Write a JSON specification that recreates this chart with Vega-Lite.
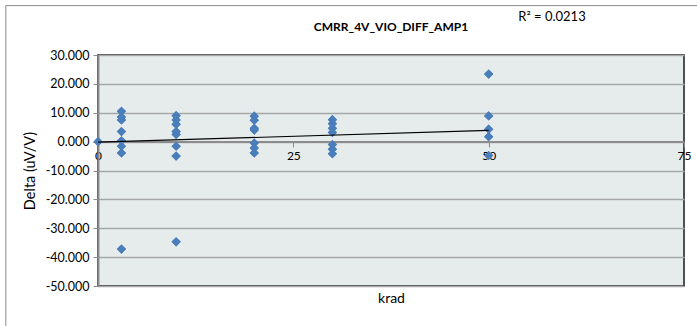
{
  "$schema": "https://vega.github.io/schema/vega-lite/v6.json",
  "width": 586,
  "height": 231,
  "autosize": "none",
  "padding": {"left": 98, "top": 55, "right": 13, "bottom": 40},
  "background": "white",
  "config": {
    "font": "Lato",
    "view": {"fill": "#E6ECEC", "stroke": "#1a1a1a", "strokeWidth": 1.5},
    "axis": {"labelOverlap": false, "labelFlush": false}
  },
  "title": {
    "text": "CMRR_4V_VIO_DIFF_AMP1",
    "font": "Lato",
    "fontSize": 12,
    "fontWeight": "bold",
    "color": "#000000",
    "offset": -29,
    "anchor": "middle"
  },
  "datasets": {
    "points": [
      {"krad": 0, "delta": 0.0},
      {"krad": 3, "delta": 10.5},
      {"krad": 3, "delta": 8.5},
      {"krad": 3, "delta": 7.5},
      {"krad": 3, "delta": 3.5},
      {"krad": 3, "delta": 0.3},
      {"krad": 3, "delta": -1.6},
      {"krad": 3, "delta": -3.9},
      {"krad": 3, "delta": -37.2},
      {"krad": 10, "delta": 9.0},
      {"krad": 10, "delta": 7.5},
      {"krad": 10, "delta": 6.0},
      {"krad": 10, "delta": 3.5},
      {"krad": 10, "delta": 2.5},
      {"krad": 10, "delta": -1.6},
      {"krad": 10, "delta": -5.0},
      {"krad": 10, "delta": -34.7},
      {"krad": 20, "delta": 8.8},
      {"krad": 20, "delta": 7.4},
      {"krad": 20, "delta": 4.6},
      {"krad": 20, "delta": 4.0},
      {"krad": 20, "delta": -0.5},
      {"krad": 20, "delta": -2.2},
      {"krad": 20, "delta": -3.9},
      {"krad": 30, "delta": 7.6},
      {"krad": 30, "delta": 6.2},
      {"krad": 30, "delta": 4.6},
      {"krad": 30, "delta": 3.2},
      {"krad": 30, "delta": -1.0},
      {"krad": 30, "delta": -2.6},
      {"krad": 30, "delta": -4.2},
      {"krad": 50, "delta": 23.4},
      {"krad": 50, "delta": 8.9},
      {"krad": 50, "delta": 4.3},
      {"krad": 50, "delta": 1.7},
      {"krad": 50, "delta": -4.8}
    ],
    "trend": [
      {"krad": 0, "delta": -0.2},
      {"krad": 50, "delta": 3.9}
    ],
    "frame": [
      {"x1": -11.8, "x2": 90, "y1": 47.1, "y2": -80}
    ]
  },
  "data": {"name": "points"},
  "layer": [
    {
      "mark": {"type": "point", "shape": "diamond", "filled": true, "color": "#4A7EBB", "opacity": 1, "size": 85},
      "encoding": {
        "x": {
          "field": "krad", "type": "quantitative",
          "scale": {"domain": [0, 75], "nice": false},
          "axis": {
            "values": [0, 25, 50, 75],
            "tickCount": 20,
            "offset": -144,
            "grid": false,
            "domain": false,
            "tickColor": "#8C8C8C",
            "tickSize": 5,
            "tickWidth": 1,
            "labelFontSize": 12,
            "labelColor": "#000000",
            "labelPadding": 3,
            "title": "krad",
            "titleFontSize": 14,
            "titleFontWeight": "normal",
            "titleColor": "#000000",
            "titleY": 149
          }
        },
        "y": {
          "field": "delta", "type": "quantitative",
          "scale": {"domain": [-50, 30], "nice": false, "zero": false},
          "axis": {
            "values": [-50, -40, -30, -20, -10, 0, 10, 20, 30],
            "tickCount": 20,
            "labelExpr": "replace(format(datum.value, '.3f'), '\u2212', '-')",
            "labelOverlap": false,
            "grid": true,
            "gridColor": "#A6A6A6",
            "gridWidth": 1.5,
            "domainColor": "#8C8C8C",
            "domainWidth": 2,
            "tickColor": "#8C8C8C",
            "tickSize": 5,
            "labelFontSize": 12.5,
            "labelColor": "#000000",
            "labelPadding": 4,
            "title": "Delta (uV/V)",
            "titleFontSize": 14.5,
            "titleFontWeight": "normal",
            "titleColor": "#000000",
            "titlePadding": 8
          }
        }
      }
    },
    {
      "data": {"name": "frame"},
      "mark": {"type": "rect", "fill": null, "stroke": "#8C8C8C", "strokeWidth": 1, "clip": false},
      "encoding": {
        "x": {"field": "x1", "type": "quantitative"},
        "x2": {"field": "x2"},
        "y": {"field": "y1", "type": "quantitative"},
        "y2": {"field": "y2"}
      }
    },
    {
      "mark": {"type": "rule", "color": "#8C8C8C", "strokeWidth": 1.5},
      "encoding": {"y": {"datum": 0, "type": "quantitative"}}
    },
    {
      "mark": {"type": "point", "shape": "diamond", "filled": true, "color": "#4A7EBB", "opacity": 1, "size": 85},
      "encoding": {
        "x": {"field": "krad", "type": "quantitative"},
        "y": {"field": "delta", "type": "quantitative"}
      }
    },
    {
      "data": {"name": "trend"},
      "mark": {"type": "line", "color": "#000000", "strokeWidth": 1.2},
      "encoding": {
        "x": {"field": "krad", "type": "quantitative"},
        "y": {"field": "delta", "type": "quantitative"}
      }
    },
    {
      "data": {"values": [{"label": "R² = 0.0213"}]},
      "mark": {"type": "text", "fontSize": 13, "color": "#000000", "align": "center", "baseline": "middle", "font": "Lato"},
      "encoding": {
        "x": {"datum": 58.1, "type": "quantitative"},
        "y": {"datum": 43, "type": "quantitative"},
        "text": {"field": "label"}
      }
    }
  ]
}
